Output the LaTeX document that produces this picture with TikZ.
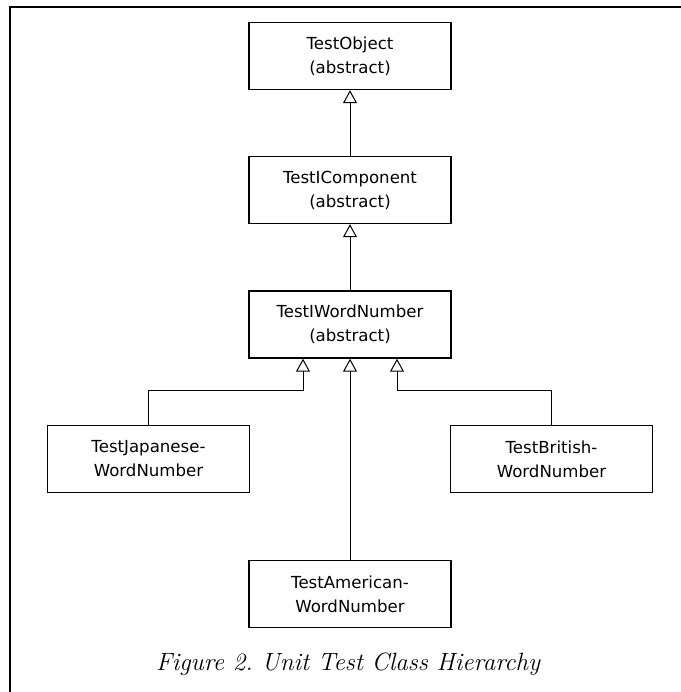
\documentclass[tikz,border=0pt]{standalone}
\usepackage{fontspec}
\newfontfamily\boxfont{DejaVu Sans}
\usetikzlibrary{arrows.meta}

\tikzset{
  cls/.style={rectangle,draw,line width=0.7pt,minimum width=101pt,minimum height=33.5pt,
    align=center,font=\boxfont\fontsize{8.3}{12}\selectfont,inner sep=0pt},
  inherit/.style={-{Triangle[open,length=6.5pt,width=7pt]},line width=0.5pt}
}

\begin{document}
\frenchspacing
\begin{tikzpicture}[x=0.5pt,y=-0.5pt]
\useasboundingbox (0,0) rectangle (681,692);
\draw[line width=0.75pt] (681,7) -- (10,7) -- (10,692);
\node[cls] (v1) at (350,56) {TestObject\\(abstract)};
\node[cls] (v2) at (350,190) {TestIComponent\\(abstract)};
\node[cls] (v3) at (350,324.5) {TestIWordNumber\\(abstract)};
\node[cls] (v4) at (148.5,459) {TestJapanese-\\WordNumber};
\node[cls] (v5) at (551.5,459) {TestBritish-\\WordNumber};
\node[cls] (v6) at (350,594) {TestAmerican-\\WordNumber};
\node[font=\itshape\fontsize{12.5}{14}\selectfont] (cap) at (348,664) {Figure 2. Unit Test Class Hierarchy};
\draw[inherit] (v2) -- (v1);
\draw[inherit] (v3) -- (v2);
\draw[inherit] (v6) -- (v3);
\draw[inherit] (v4.north) -- ++(0,-34) -| ([xshift=-23.5pt]v3.south);
\draw[inherit] (v5.north) -- ++(0,-34) -| ([xshift=23.5pt]v3.south);
\end{tikzpicture}
\end{document}
